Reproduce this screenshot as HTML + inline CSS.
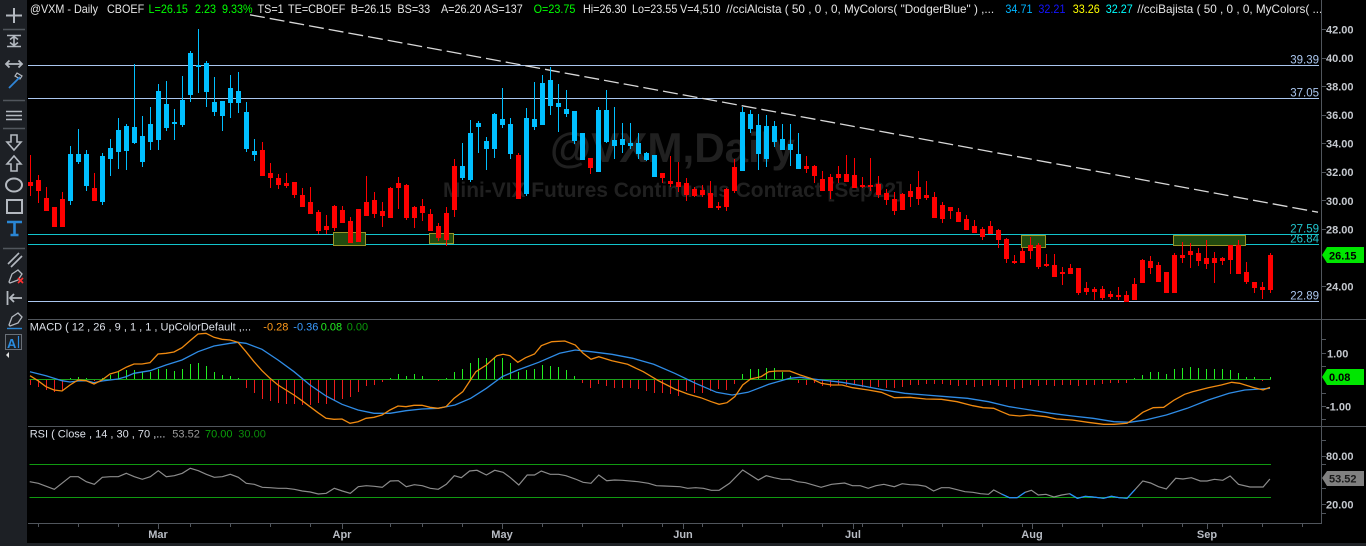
<!DOCTYPE html>
<html><head><meta charset="utf-8"><style>
html,body{margin:0;padding:0;background:#000;}
svg{display:block;font-family:"Liberation Sans",Arial,sans-serif;}
</style></head><body>
<svg width="1366" height="546" viewBox="0 0 1366 546" xmlns="http://www.w3.org/2000/svg">
<rect width="1366" height="546" fill="#000"/>
<!-- watermark -->
<text x="550" y="162" font-size="42" font-weight="bold" fill="#202020" textLength="245" lengthAdjust="spacingAndGlyphs">@VXM,Daily</text>
<text x="443" y="197" font-size="21" font-weight="bold" fill="#202020" textLength="460" lengthAdjust="spacingAndGlyphs">Mini-VIX Futures Continuous Contract [Sep22]</text>

<!-- horizontal levels -->
<g shape-rendering="crispEdges">
<path d="M28 65.5H1319M28 98.5H1319M28 301.5H1319" stroke="#aac6ee" stroke-width="1"/>
<path d="M28 234.5H1319M28 244.5H1319" stroke="#12c4cc" stroke-width="1"/>
</g>
<g font-size="11.5" text-anchor="end">
<text x="1319" y="63.3" fill="#aac6ee">39.39</text>
<text x="1319" y="96.5" fill="#aac6ee">37.05</text>
<text x="1319" y="232.6" fill="#22c4cc">27.59</text>
<text x="1319" y="242.6" fill="#22c4cc">26.84</text>
<text x="1319" y="299.4" fill="#aac6ee">22.89</text>
</g>
<!-- trendline -->
<path d="M250 14.8L1318 212.2" stroke="#d8d8d8" stroke-width="1.3" stroke-dasharray="15 5"/>

<!-- zones -->
<g fill="#224a0e" stroke="#9a9426" stroke-width="1">
<rect x="333.5" y="232.5" width="32" height="13"/>
<rect x="429.5" y="233.5" width="24" height="10"/>
<rect x="1021.5" y="235.5" width="24" height="12"/>
<rect x="1173.5" y="235.5" width="72" height="10"/>
</g>

<!-- candles -->
<g shape-rendering="crispEdges">
<path stroke="#00bfff" stroke-width="1" fill="none" d="M70.5 146V205M78.5 129V164M86.5 150V191M102.5 153V205M110.5 139V176M118.5 118V169M126.5 124V170M134.5 64V144M142.5 116V167M150.5 107V150M158.5 84V150M166.5 81V131M174.5 109V140M182.5 76V127M190.5 51V102M198.5 29V93M206.5 61V107M214.5 77V116M222.5 101V131M230.5 75V118M238.5 72V113M246.5 102V152M254.5 139V161M462.5 143V180M470.5 120V182M478.5 121V153M486.5 137V170M494.5 113V158M502.5 88V128M510.5 118V159M526.5 108V196M534.5 82V130M542.5 75V125M550.5 67V115M558.5 84V132M566.5 90V117M574.5 111V144M582.5 133V160M598.5 107V172M606.5 90V143M614.5 107V159M622.5 123V153M630.5 123V149M638.5 133V159M646.5 152V161M654.5 155V177M742.5 107V171M750.5 110V133M758.5 114V170M766.5 115V167M774.5 121V147M782.5 124V150M790.5 124V166M798.5 133V169"/>
<path fill="#00bfff" d="M68 154h5v47h-5zM76 154h5v8h-5zM84 154h5v32h-5zM100 156h5v46h-5zM108 148h5v11h-5zM116 130h5v22h-5zM124 126h5v25h-5zM132 127h5v16h-5zM140 136h5v26h-5zM148 124h5v18h-5zM156 91h5v49h-5zM164 104h5v24h-5zM172 122h5v2h-5zM180 100h5v25h-5zM188 53h5v42h-5zM196 65h5v2h-5zM204 63h5v29h-5zM212 102h5v10h-5zM220 101h5v15h-5zM228 88h5v15h-5zM236 91h5v12h-5zM244 112h5v37h-5zM252 151h5v4h-5zM460 166h5v12h-5zM468 133h5v47h-5zM476 123h5v4h-5zM484 141h5v8h-5zM492 114h5v35h-5zM500 119h5v6h-5zM508 124h5v30h-5zM524 118h5v76h-5zM532 119h5v8h-5zM540 83h5v42h-5zM548 80h5v26h-5zM556 103h5v4h-5zM564 109h5v5h-5zM572 111h5v30h-5zM580 133h5v27h-5zM596 110h5v62h-5zM604 110h5v32h-5zM612 140h5v6h-5zM620 139h5v6h-5zM628 143h5v3h-5zM636 143h5v11h-5zM644 153h5v7h-5zM652 155h5v22h-5zM740 112h5v59h-5zM748 114h5v15h-5zM756 125h5v29h-5zM764 126h5v33h-5zM772 126h5v16h-5zM780 139h5v11h-5zM788 144h5v6h-5zM796 154h5v15h-5z"/>
<path stroke="#ff0000" stroke-width="1" fill="none" d="M30.5 155V196M38.5 175V203M46.5 187V211M54.5 207V227M62.5 192V227M94.5 173V201M262.5 142V176M270.5 163V188M278.5 174V189M286.5 173V188M294.5 182V198M302.5 188V207M310.5 187V214M318.5 210V234M326.5 215V234M334.5 205V231M342.5 206V223M350.5 217V243M358.5 209V242M366.5 176V216M374.5 192V218M382.5 202V227M390.5 187V218M398.5 177V209M406.5 184V220M414.5 206V228M422.5 199V221M430.5 209V231M438.5 223V241M446.5 207V246M454.5 159V217M518.5 153V199M590.5 158V174M662.5 173V183M670.5 156V187M678.5 162V192M686.5 178V201M694.5 187V197M702.5 185V197M710.5 181V208M718.5 202V210M726.5 188V211M734.5 159V193M806.5 156V173M814.5 165V183M822.5 171V191M830.5 174V199M838.5 166V183M846.5 155V182M854.5 158V188M862.5 177V188M870.5 158V191M878.5 176V198M886.5 189V205M894.5 192V215M902.5 193V210M910.5 184V207M918.5 171V205M926.5 181V200M934.5 192V218M942.5 202V223M950.5 207V219M958.5 208V222M966.5 215V230M974.5 220V233M982.5 227V240M990.5 221V234M998.5 229V248M1006.5 238V263M1014.5 255V264M1022.5 248V263M1030.5 237V259M1038.5 243V269M1046.5 254V267M1054.5 254V277M1062.5 267V285M1070.5 264V274M1078.5 268V295M1086.5 282V295M1094.5 287V300M1102.5 286V300M1110.5 291V299M1118.5 287V300M1126.5 291V302M1134.5 278V300M1142.5 259V283M1150.5 256V274M1158.5 262V282M1166.5 272V293M1174.5 253V293M1182.5 242V263M1190.5 243V268M1198.5 248V266M1206.5 240V269M1214.5 252V283M1222.5 257V265M1230.5 245V274M1238.5 240V274M1246.5 262V284M1254.5 282V293M1262.5 282V299M1270.5 253V293"/>
<path fill="#ff0000" d="M28 182h5v4h-5zM36 180h5v11h-5zM44 198h5v13h-5zM52 207h5v20h-5zM60 199h5v28h-5zM92 188h5v13h-5zM260 150h5v26h-5zM268 173h5v5h-5zM276 178h5v7h-5zM284 183h5v3h-5zM292 182h5v13h-5zM300 195h5v12h-5zM308 202h5v12h-5zM316 212h5v19h-5zM324 226h5v4h-5zM332 206h5v22h-5zM340 210h5v13h-5zM348 221h5v22h-5zM356 209h5v33h-5zM364 202h5v14h-5zM372 200h5v14h-5zM380 211h5v5h-5zM388 188h5v30h-5zM396 183h5v5h-5zM404 185h5v33h-5zM412 207h5v11h-5zM420 206h5v7h-5zM428 214h5v17h-5zM436 226h5v12h-5zM444 213h5v27h-5zM452 166h5v44h-5zM516 155h5v44h-5zM588 158h5v10h-5zM660 173h5v5h-5zM668 181h5v3h-5zM676 182h5v5h-5zM684 183h5v12h-5zM692 189h5v7h-5zM700 190h5v5h-5zM708 193h5v15h-5zM716 206h5v2h-5zM724 189h5v18h-5zM732 167h5v24h-5zM804 166h5v3h-5zM812 166h5v10h-5zM820 179h5v12h-5zM828 177h5v14h-5zM836 174h5v4h-5zM844 174h5v8h-5zM852 175h5v13h-5zM860 185h5v2h-5zM868 185h5v2h-5zM876 184h5v11h-5zM884 193h5v7h-5zM892 199h5v12h-5zM900 194h5v16h-5zM908 191h5v6h-5zM916 187h5v12h-5zM924 195h5v3h-5zM932 197h5v21h-5zM940 205h5v14h-5zM948 207h5v4h-5zM956 212h5v10h-5zM964 219h5v11h-5zM972 226h5v7h-5zM980 229h5v8h-5zM988 226h5v8h-5zM996 230h5v10h-5zM1004 239h5v20h-5zM1012 261h5v2h-5zM1020 251h5v12h-5zM1028 245h5v6h-5zM1036 245h5v22h-5zM1044 264h5v2h-5zM1052 265h5v12h-5zM1060 272h5v2h-5zM1068 268h5v6h-5zM1076 268h5v25h-5zM1084 288h5v4h-5zM1092 289h5v3h-5zM1100 289h5v9h-5zM1108 294h5v3h-5zM1116 295h5v2h-5zM1124 295h5v7h-5zM1132 284h5v16h-5zM1140 260h5v23h-5zM1148 261h5v7h-5zM1156 265h5v17h-5zM1164 272h5v21h-5zM1172 255h5v38h-5zM1180 255h5v3h-5zM1188 251h5v4h-5zM1196 253h5v8h-5zM1204 258h5v6h-5zM1212 258h5v5h-5zM1220 258h5v3h-5zM1228 245h5v15h-5zM1236 245h5v29h-5zM1244 272h5v10h-5zM1252 282h5v6h-5zM1260 287h5v3h-5zM1268 255h5v35h-5z"/>
</g>

<!-- header -->
<g font-size="11.5" fill="#e6e6e6" transform="scale(0.94 1)">
<text x="31.9" y="13">@VXM - Daily</text>
<text x="113.8" y="13">CBOEF</text>
<text x="158" y="13" fill="#00ff00">L=26.15</text>
<text x="207.4" y="13" fill="#00ff00">2.23</text>
<text x="236.2" y="13" fill="#00ff00">9.33%</text>
<text x="274" y="13">TS=1</text>
<text x="306.4" y="13">TE=CBOEF</text>
<text x="373.1" y="13">B=26.15</text>
<text x="422.8" y="13">BS=33</text>
<text x="469.1" y="13">A=26.20</text>
<text x="514.9" y="13">AS=137</text>
<text x="567.7" y="13" fill="#00ff00">O=23.75</text>
<text x="620.2" y="13">Hi=26.30</text>
<text x="672.3" y="13">Lo=23.55</text>
<text x="723.4" y="13">V=4,510</text>
<text x="772.6" y="13" textLength="285" lengthAdjust="spacingAndGlyphs">//cciAlcista ( 50 , 0 , 0, MyColors( "DodgerBlue" ) ,...</text>
<text x="1069.6" y="13" fill="#00b4ff">34.71</text>
<text x="1104.7" y="13" fill="#1414ff">32.21</text>
<text x="1141.2" y="13" fill="#ffff00">33.26</text>
<text x="1176.3" y="13" fill="#00ffff">32.27</text>
<text x="1209.9" y="13" textLength="196.8" lengthAdjust="spacingAndGlyphs">//cciBajista ( 50 , 0 , 0, MyColors( ...</text>
</g>

<!-- panel separators & axes -->
<g shape-rendering="crispEdges" stroke="#50555c" stroke-width="1">
<path d="M28 319.5H1366M28 426.5H1366M28 523.5H1322M1321.5 0V523.5"/>
<path d="M1322 29.5h4M1322 58.5h4M1322 86.5h4M1322 115.5h4M1322 143.5h4M1322 172.5h4M1322 200.5h4M1322 229.5h4M1322 286.5h4M1322 339.5h4M1322 353.5h4M1322 366.5h4M1322 393.5h4M1322 406.5h4M1322 419.5h4M1322 440.5h4M1322 456.5h4M1322 464.5h4M1322 488.5h4M1322 504.5h4M1322 513.5h4"/>
<path d="M38.5 524v3M78.5 524v3M118.5 524v3M190.5 524v3M230.5 524v3M270.5 524v3M310.5 524v3M390.5 524v3M422.5 524v3M462.5 524v3M542.5 524v3M582.5 524v3M622.5 524v3M662.5 524v3M702.5 524v3M742.5 524v3M782.5 524v3M822.5 524v3M862.5 524v3M902.5 524v3M942.5 524v3M982.5 524v3M1022.5 524v3M1062.5 524v3M1102.5 524v3M1142.5 524v3M1182.5 524v3M1222.5 524v3M1262.5 524v3M1302.5 524v3"/>
<path d="M158.5 524v5M342.5 524v5M502.5 524v5M683.5 524v5M853.5 524v5M1032.5 524v5M1207.5 524v5"/>
</g>
<g font-size="11" font-weight="bold" fill="#c4c8ce">
<text x="1326" y="33.5">42.00</text>
<text x="1326" y="62">40.00</text>
<text x="1326" y="90.6">38.00</text>
<text x="1326" y="119">36.00</text>
<text x="1326" y="147.7">34.00</text>
<text x="1326" y="176.2">32.00</text>
<text x="1326" y="204.8">30.00</text>
<text x="1326" y="233.3">28.00</text>
<text x="1326" y="290.4">24.00</text>
<text x="1327" y="357.3">1.00</text>
<text x="1326" y="410.7">-1.00</text>
<text x="1326" y="460">80.00</text>
<text x="1326" y="508.7">20.00</text>
</g>
<g font-size="11" font-weight="bold" fill="#b8bcc4" text-anchor="middle">
<text x="158" y="538">Mar</text>
<text x="342" y="538">Apr</text>
<text x="502" y="538">May</text>
<text x="683" y="538">Jun</text>
<text x="853" y="538">Jul</text>
<text x="1032" y="538">Aug</text>
<text x="1207" y="538">Sep</text>
</g>
<!-- price boxes -->
<polygon points="1322,255 1327,247 1364,247 1364,263 1327,263" fill="#00e600"/>
<text x="1329" y="259.5" font-size="11" font-weight="bold" fill="#000">26.15</text>
<polygon points="1322,377 1327,369 1364,369 1364,385 1327,385" fill="#00e600"/>
<text x="1329" y="381" font-size="11" font-weight="bold" fill="#000">0.08</text>
<polygon points="1322,478 1327,471 1364,471 1364,486 1327,486" fill="#808080"/>
<text x="1329" y="482.5" font-size="11" font-weight="bold" fill="#1a1a1a">53.52</text>

<!-- MACD panel -->
<g font-size="11">
<text x="29.7" y="330.7" fill="#dce0e8">MACD ( 12 , 26 , 9 , 1 , 1 , UpColorDefault ,...</text>
<text x="263.3" y="330.7" fill="#ff9a1a">-0.28</text>
<text x="293.3" y="330.7" fill="#3a9cff">-0.36</text>
<text x="320.7" y="330.7" fill="#22ee22">0.08</text>
<text x="346.7" y="330.7" fill="#0a9a0a">0.00</text>
</g>
<g shape-rendering="crispEdges" stroke-width="1" fill="none">
<path stroke="#1aa01a" d="M29.5 379.5H1271"/>
<path stroke="#ee1c1c" d="M30.5 380v5M38.5 380v7M46.5 380v10M54.5 380v12M62.5 380v11M94.5 380v1M246.5 380v8M254.5 380v13M262.5 380v19M270.5 380v21M278.5 380v23M286.5 380v24M294.5 380v24M302.5 380v25M310.5 380v25M318.5 380v23M326.5 380v24M334.5 380v21M342.5 380v19M350.5 380v17M358.5 380v12M366.5 380v6M374.5 380v5M382.5 380v2M438.5 380v1M582.5 380v3M590.5 380v8M598.5 380v4M606.5 380v6M614.5 380v8M622.5 380v8M630.5 380v8M638.5 380v9M646.5 380v11M654.5 380v13M662.5 380v13M670.5 380v14M678.5 380v16M686.5 380v11M694.5 380v13M702.5 380v13M710.5 380v11M718.5 380v9M726.5 380v10M734.5 380v4M798.5 380v3M806.5 380v5M814.5 380v3M822.5 380v6M830.5 380v7M838.5 380v5M846.5 380v5M854.5 380v5M862.5 380v7M870.5 380v8M878.5 380v7M886.5 380v8M894.5 380v8M902.5 380v7M910.5 380v5M918.5 380v5M926.5 380v4M934.5 380v4M942.5 380v4M950.5 380v5M958.5 380v6M966.5 380v5M974.5 380v7M982.5 380v6M990.5 380v5M998.5 380v6M1006.5 380v7M1014.5 380v9M1022.5 380v8M1030.5 380v5M1038.5 380v6M1046.5 380v5M1054.5 380v6M1062.5 380v5M1070.5 380v5M1078.5 380v6M1086.5 380v5M1094.5 380v5M1102.5 380v4M1110.5 380v3M1118.5 380v3M1126.5 380v3M1262.5 380v1"/>
<path stroke="#22ee22" d="M70.5 379v-1M78.5 379v-2M86.5 379v-1M102.5 379v-1M110.5 379v-4M118.5 379v-7M126.5 379v-9M134.5 379v-9M142.5 379v-7M150.5 379v-7M158.5 379v-10M166.5 379v-10M174.5 379v-8M182.5 379v-10M190.5 379v-15M198.5 379v-16M206.5 379v-13M214.5 379v-7M222.5 379v-4M230.5 379v-3M238.5 379v-1M390.5 379v-1M398.5 379v-5M406.5 379v-3M414.5 379v-5M422.5 379v-3M446.5 379v-1M454.5 379v-7M462.5 379v-10M470.5 379v-16M478.5 379v-21M486.5 379v-21M494.5 379v-22M502.5 379v-21M510.5 379v-16M518.5 379v-7M526.5 379v-9M534.5 379v-10M542.5 379v-14M550.5 379v-13M558.5 379v-12M566.5 379v-9M574.5 379v-3M742.5 379v-5M750.5 379v-10M758.5 379v-10M766.5 379v-11M774.5 379v-11M782.5 379v-7M790.5 379v-3M1134.5 379v-1M1142.5 379v-4M1150.5 379v-7M1158.5 379v-7M1166.5 379v-5M1174.5 379v-10M1182.5 379v-11M1190.5 379v-12M1198.5 379v-11M1206.5 379v-10M1214.5 379v-10M1222.5 379v-10M1230.5 379v-9M1238.5 379v-6M1246.5 379v-2M1254.5 379v-2M1270.5 379v-2"/>
</g>
<polyline fill="none" stroke="#2f8ce6" stroke-width="1.3" points="30,371.7 46,375.7 62,380.7 70,382 78,381 86,380.7 94,382.7 102,381 118,379 126,376.7 134,373.3 150,370.7 166,365 182,360 198,351.7 214,346 230,343.3 238,342.3 246,343.3 262,349.3 278,360 294,371.7 310,385 326,396 342,404.3 358,410 374,413.3 390,413.3 406,410.7 422,409 438,408.3 455,405 470.7,398.3 486.4,388.3 502.1,376.7 517.8,370 538.7,362.3 559.6,353.3 575.3,350 591,351.7 611.9,354.3 632.8,358.3 653.7,364.3 674.7,373.3 695.6,383.3 716.5,392.3 732.2,395 747.9,392.3 768.8,384.3 789.7,378.3 800.2,377.3 821.1,380 842,382.3 863,386 883.9,390 904.8,393.3 925.7,395 946.6,396.7 967.5,398.3 988.5,401.7 1009.4,406.7 1030.3,410 1051.2,413.3 1072.2,416 1093.1,418.3 1114,421.7 1129.7,422.3 1145.4,420 1166.3,415 1187.2,408.3 1208.2,400 1229.1,393.3 1244.8,390 1260.5,389 1270,388.3"/>
<polyline fill="none" stroke="#f08a10" stroke-width="1.3" points="30,375.7 38,380.7 46,386.7 54,390 62,391 70,385 78,380 86,380.7 94,384 102,380 110,374 118,371.7 126,367.3 134,364 142,364 150,362.7 158,354 166,353.3 174,352 182,347.7 190,340.7 198,334 206,333.3 214,337.3 222,339.3 230,340 238,342.3 246,351.7 254,361.7 262,370.7 270,378.3 278,385 286,390 294,395 302,400.7 310,406.7 318,412.7 326,418.3 334,419.3 342,419 350,423.3 358,421.7 366,418.3 374,417.3 382,415 390,410 398,406 406,406.7 414,405.3 422,405.3 430,407.3 438,408.3 446,406.7 454,398.3 462.8,391.7 475.9,371.7 486.4,365 496.8,355.7 503.1,354.3 510,355.7 517.8,362.3 525.6,357.7 534.5,354 541.3,345.7 551.8,341.7 564.8,341 575.3,345 583.1,353.3 591,359.3 598.8,356.7 611.9,360.7 627.6,364.3 643.3,371.7 659,381 674.7,389 687.7,394 700.8,397.7 711.3,401.7 719.1,404.3 727,402.7 734.8,396.7 742.7,385 750.5,379 761,376.7 768.8,371.7 776.7,371 789.7,371 800.2,375 810.7,378.3 821.1,383.3 831.6,385 842,385 852.5,387.7 868.2,390 881.3,392.3 894.3,397.7 910,397.3 925.7,399 941.4,399.3 957.1,401.7 972.8,405.7 983.2,407.7 993.7,408.3 1001.5,411.7 1009.4,415 1019.8,416 1030.3,415 1046,416.7 1056.5,419 1072.2,420 1087.9,422.3 1103.6,424.3 1114,424.3 1127.1,423.3 1134.9,418.3 1142.8,412.3 1153.2,407.7 1163.7,407.3 1174.2,400 1184.6,394.3 1192.5,391.7 1208.2,387.7 1221.3,385 1231.7,382.3 1239.6,383.3 1252.6,387.3 1263.1,390 1270,387.3"/>

<!-- RSI panel -->
<g font-size="11">
<text x="29.7" y="437.5" fill="#dce0e8">RSI ( Close , 14 , 30 , 70 ,...</text>
<text x="172.3" y="437.5" fill="#9a9a9a">53.52</text>
<text x="205" y="437.5" fill="#0aa00a">70.00</text>
<text x="238.3" y="437.5" fill="#0a8a0a">30.00</text>
</g>
<path shape-rendering="crispEdges" stroke="#109a10" stroke-width="1" d="M29.5 464.5H1271M29.5 497.5H1271"/>
<polyline fill="none" stroke="#8c8c8c" stroke-width="1.2" points="29.7,481.7 38.3,483.3 54.3,489.3 70.3,476.7 78.3,476.7 86.3,481.7 94.3,484.3 102.3,477.3 110.3,476.7 118.3,476.7 126.3,473.3 134.3,476.7 142.3,479.3 150.3,476.7 158.3,470.7 166.3,476.7 174.3,475.7 182.3,473.3 190.3,468.3 198.3,470.7 206.3,474.3 214.3,477.3 222.3,476.7 230.3,474.3 238.3,477.3 246.3,483.3 254.3,484.3 262.3,487.3 270.3,487.7 278.3,488.3 286.3,488.3 294.3,489.3 302.3,491 310.3,492 318.3,494 326.3,493.3 334.3,488.3 342.3,491 350.3,493.3 358.3,486.7 366.3,485.7 374.3,486.3 382.3,487.3 390.3,481 398.3,480.7 406.3,486.7 414.3,484.7 422.3,485.7 430.3,488.3 438.3,489.3 446.3,484.3 454.3,475.7 461.3,477.7 469.6,471 477,470.3 486.4,475 494.7,470.3 503.1,472.3 510.4,477.7 518.8,485 527.2,475 534.5,475 541.3,471 550.2,474.3 558.6,474.3 565.9,475.7 575.3,479 583.1,482.3 591,483.3 598.8,475 606.7,480.7 614.5,480 622.4,480.3 638,481.7 648.5,483.3 656.4,485.7 664.2,486 680,486.7 687.7,488.3 695.6,487.7 703.4,488.3 711.3,490.3 719.1,490.3 729.6,483.3 742.7,470 750.5,475 758.3,480 766.2,475.7 774,477.7 781.9,479.3 789.7,479.3 797.6,481.7 805.4,482.7 821.1,487.3 831.6,484.3 844.6,483 852.5,485.7 860.3,485.7 868.2,488.3 876,485.7 883.9,484.3 894.3,486.7 902.2,483.7 910,484.7 917.9,485 925.7,486.3 933.6,491 941.4,487.7 949.2,487.7 957.1,489.7 965,491.7 972.8,492.3 980.6,493.7 988.5,494.3 993.7,490 1001.5,494 1009.4,497.7 1017.2,497.7 1025.1,492.3 1031.4,490.3 1038.2,495 1046,494.3 1053.9,497 1061.7,495 1069.6,493.7 1077.4,498.3 1085.2,496.3 1093.1,497 1103.6,498.3 1111.4,496.3 1119.2,497.7 1127.1,498.3 1142.8,481 1150.6,483 1158.5,486.7 1166.3,489 1175.7,478.3 1183,479 1191.4,477.7 1200.3,481 1207.1,481 1214.4,479.3 1222.8,480.3 1230.1,476 1238.5,484.3 1250,487 1263.1,487 1269.9,479"/>
<polyline fill="none" stroke="#1e90ff" stroke-width="1.2" points="1001.5,494 1009.4,497.7 1017.2,497.7 1025.1,492.3"/>
<polyline fill="none" stroke="#1e90ff" stroke-width="1.2" points="1069.6,493.7 1077.4,498.3 1085.2,496.3 1093.1,497 1103.6,498.3 1111.4,496.3 1119.2,497.7 1127.1,498.3 1135,489.6"/>

<!-- bottom strip -->
<rect x="0" y="543" width="1366" height="3" fill="#1f2226"/>

<!-- left toolbar -->
<rect x="0" y="0" width="27" height="546" fill="#1d2025"/>
<g stroke="#b4b9c0" stroke-width="2" fill="none">
<path d="M6 15.5h16M14 8v15"/>
<path d="M7 35.5h14M7 46.5h14M14 36v10M10 39.5l4-3 4 3M10 42.5l4 3 4-3" stroke-width="1.6"/>
<path d="M6 64h16M9.5 60.5L6 64l3.5 3.5M18.5 60.5L22 64l-3.5 3.5" stroke-width="1.8"/>
<path d="M17 73l5 3-2 3-5-3z" stroke-width="1.2"/>
<path d="M6 111.5h16M6 115.5h16M6 119.5h16" stroke-width="1.6"/>
<path d="M11 135h6v7h4l-7 8-7-8h4z" stroke-width="1.6"/>
<path d="M11 171h6v-7h4l-7-8-7 8h4z" stroke-width="1.6"/>
<ellipse cx="14" cy="185" rx="8" ry="6.5"/>
<rect x="7" y="200" width="15" height="13"/>
<path d="M8 264l11-11M11 267l11-11" stroke-width="1.6"/>
<path d="M9 282l3-8 6-4 4 4-4 6-8 3z" stroke-width="1.3"/>
<path d="M7.5 291v14M10 298h12M14 294l-4 4 4 4" stroke-width="1.8"/>
<path d="M9 325l3-8 6-4 4 4-4 6-8 3z" stroke-width="1.3"/>
</g>
<g stroke="#51565d" stroke-width="1.6">
<path d="M3 29.5h22M3 100.5h22M3 128.5h22M3 248.5h22"/>
</g>
<path d="M9 88l11-11" stroke="#2f86d8" stroke-width="1.8"/>
<path d="M7 222h15M14.5 222v13M10.5 235h8" stroke="#2a86d4" stroke-width="2.6" fill="none"/>
<path d="M18 278l5 5M23 278l-5 5" stroke="#ff3030" stroke-width="1.6"/>
<path d="M7 328.5h15" stroke="#2a86d4" stroke-width="1.4"/>
<rect x="5.5" y="334.5" width="16" height="15" fill="none" stroke="#6a7078" stroke-width="1"/>
<text x="7" y="348" font-size="13" font-weight="bold" fill="#2a8ce0">A</text>
<path d="M18.5 336v12" stroke="#2a8ce0" stroke-width="1.2"/>
<path d="M9 352l-3 3 3 3z" fill="#e0e0e0"/>
</svg>
</body></html>
